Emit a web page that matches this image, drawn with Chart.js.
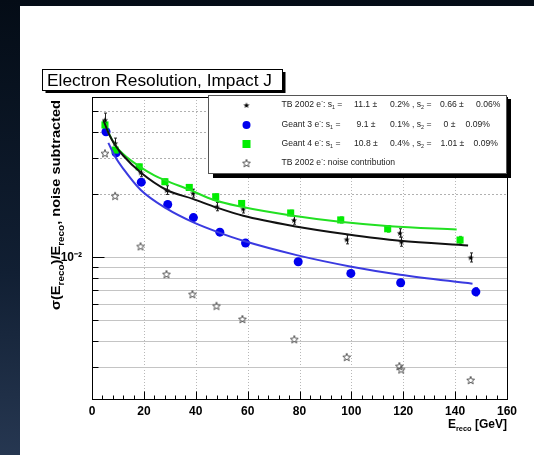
<!DOCTYPE html>
<html>
<head>
<meta charset="utf-8">
<script src="https://cdn.jsdelivr.net/npm/chart.js@4.4.1/dist/chart.umd.min.js"></script>
<style>
  html, body { margin: 0; padding: 0; background: #07111d; }
  #wrap { width: 534px; height: 455px; position: relative; }
</style>
</head>
<body>
<div id="wrap"><canvas id="c" width="534" height="455"></canvas></div>
<script>
// ---------- data ----------
const xTickValues = [0, 20, 40, 60, 80, 100, 120, 140, 160];
const yTickValues = [0.003, 0.004, 0.005, 0.006, 0.007, 0.008, 0.009, 0.01, 0.02, 0.03, 0.04, 0.05];
const yTickLabel = '10⁻²';

// TB 2002 e- (black filled stars)
const tbE   = [5.0, 8.9, 18.8, 28.8, 39.0, 48.1, 58.3, 77.9, 98.2, 118.7, 119.3, 146.0];
const tbVal = [0.0455, 0.0352, 0.0255, 0.0210, 0.0203, 0.0175, 0.0171, 0.0151, 0.0122, 0.0131, 0.0119, 0.0100];
const tbErr = [0.0035, 0.0020, 0.0012, 0.0010, 0.0009, 0.0008, 0.0008, 0.0007, 0.0006, 0.0006, 0.0006, 0.0005];

// Geant 3 e- (blue circles)
const g3E   = [5.4, 9.3, 19.0, 29.2, 39.1, 49.3, 59.2, 79.5, 99.8, 119.0, 148.0];
const g3Val = [0.0399, 0.0316, 0.0229, 0.0179, 0.0155, 0.0132, 0.0117, 0.00953, 0.00838, 0.00756, 0.00684];
const g3Err = [0.0010, 0.0008, 0.0006, 0.0005, 0.0005, 0.0004, 0.0004, 0.0003, 0.0003, 0.0003, 0.0003];

// Geant 4 e- (green squares)
const g4E   = [5.0, 8.9, 18.2, 28.1, 37.5, 47.7, 57.7, 76.6, 95.9, 114.0, 141.9];
const g4Val = [0.0430, 0.0326, 0.0271, 0.0230, 0.0216, 0.0195, 0.0181, 0.0163, 0.0151, 0.0137, 0.0121];
const g4Err = [0.0012, 0.0010, 0.0008, 0.0007, 0.0006, 0.0006, 0.0006, 0.0005, 0.0005, 0.0005, 0.0005];

// TB 2002 e- noise contribution (open stars)
const noiseE   = [5.0, 8.9, 18.7, 28.7, 38.7, 48.0, 58.0, 78.0, 98.2, 118.5, 119.2, 146.0];
const noiseVal = [0.0315, 0.0197, 0.0113, 0.00832, 0.00667, 0.00587, 0.00507, 0.00406, 0.00334, 0.00302, 0.00291, 0.00259];

// fitted curves
const tbFitE   = [4.4, 6.5, 8.9, 12.0, 18.9, 28.8, 39.1, 48.1, 58.3, 77.9, 98.2, 118.7, 145.0];
const tbFitVal = [0.0454, 0.0390, 0.0345, 0.0307, 0.0254, 0.0210, 0.0190, 0.0173, 0.0158, 0.0141, 0.0129, 0.0120, 0.0114];
const g3FitE   = [6.3, 9.0, 12.1, 18.8, 28.8, 39.1, 49.3, 58.3, 78.9, 99.5, 118.8, 146.7];
const g3FitVal = [0.0353, 0.0302, 0.0265, 0.0210, 0.0171, 0.0147, 0.0131, 0.0120, 0.01025, 0.00905, 0.00826, 0.00748];
const g4FitE   = [4.4, 6.5, 8.9, 12.0, 18.5, 24.0, 28.1, 37.8, 47.0, 57.1, 76.3, 95.6, 114.9, 140.6];
const g4FitVal = [0.0454, 0.0392, 0.0345, 0.0312, 0.0271, 0.0247, 0.0234, 0.0210, 0.0188, 0.0175, 0.0159, 0.0148, 0.0141, 0.0136];

// ---------- helpers ----------
const FONT = '"Liberation Sans", Arial, Helvetica, sans-serif';
const pts = (xs, ys) => xs.map((x, i) => ({ x: x, y: ys[i] }));

function starPath(ctx, cx, cy, R, r) {
  ctx.beginPath();
  for (let i = 0; i < 10; i++) {
    const rad = i % 2 === 0 ? R : r;
    const a = -Math.PI / 2 + i * Math.PI / 5;
    const px = cx + rad * Math.cos(a), py = cy + rad * Math.sin(a);
    if (i === 0) ctx.moveTo(px, py); else ctx.lineTo(px, py);
  }
  ctx.closePath();
}
function makeStar(size, filled, color) {
  const cv = document.createElement('canvas');
  cv.width = size; cv.height = size;
  const c = cv.getContext('2d');
  starPath(c, size / 2, size / 2 + 0.5, size / 2 - 0.8, (size / 2 - 0.8) * 0.42);
  if (filled) { c.fillStyle = color; c.fill(); }
  else { c.strokeStyle = color; c.lineWidth = 1; c.stroke(); }
  return cv;
}
const blackStar = makeStar(8, true, '#000');
const openStar = makeStar(10, false, '#555');

function richText(ctx, x, y, parts, size, weight, ratio) {
  ratio = ratio || 0.62;
  let cx = x;
  for (const [t, m] of parts) {
    const s = m === 'n' ? size : size * ratio;
    ctx.font = weight + ' ' + s + 'px ' + FONT;
    const dy = m === 'sub' ? size * 0.28 : (m === 'sup' ? -size * 0.42 : 0);
    ctx.fillText(t, cx, y + dy);
    cx += ctx.measureText(t).width;
  }
  return cx - x;
}
function richWidth(ctx, parts, size, weight, ratio) {
  ratio = ratio || 0.62;
  let w = 0;
  for (const [t, m] of parts) {
    const s = m === 'n' ? size : size * ratio;
    ctx.font = weight + ' ' + s + 'px ' + FONT;
    w += ctx.measureText(t).width;
  }
  return w;
}

// ---------- plugins ----------
const backgroundPlugin = {
  id: 'bg',
  beforeDraw(chart) {
    const ctx = chart.ctx;
    ctx.save();
    const g = ctx.createLinearGradient(0, 0, 0, chart.height);
    g.addColorStop(0, '#040c16');
    g.addColorStop(0.6, '#111f33');
    g.addColorStop(1, '#263751');
    ctx.fillStyle = g;
    ctx.fillRect(0, 0, chart.width, chart.height);
    ctx.fillStyle = '#ffffff';
    ctx.fillRect(20, 6, chart.width - 20, chart.height - 6);
    ctx.restore();
  }
};

const gridPlugin = {
  id: 'rootgrid',
  beforeDatasetsDraw(chart) {
    const { ctx, chartArea: a, scales: { x, y } } = chart;
    ctx.save();
    ctx.lineWidth = 1;
    ctx.strokeStyle = '#b8b8b8';
    ctx.setLineDash([1, 2]);
    for (const v of xTickValues) {
      const px = Math.round(x.getPixelForValue(v)) + 0.5;
      if (px <= a.left + 1 || px >= a.right - 1) continue;
      ctx.beginPath(); ctx.moveTo(px, a.top); ctx.lineTo(px, a.bottom); ctx.stroke();
    }
    for (const v of yTickValues) {
      const py = Math.round(y.getPixelForValue(v)) + 0.5;
      if (v > 0.0101) { ctx.setLineDash([2, 2]); ctx.strokeStyle = '#b0b0b0'; }
      else { ctx.setLineDash([]); ctx.strokeStyle = '#c4c4c4'; }
      ctx.beginPath(); ctx.moveTo(a.left, py); ctx.lineTo(a.right, py); ctx.stroke();
    }
    ctx.restore();
  }
};

const errorBarPlugin = {
  id: 'errbars',
  beforeDatasetsDraw(chart) {
    const { ctx, scales: { x, y } } = chart;
    ctx.save();
    chart.data.datasets.forEach(ds => {
      if (!ds.errors) return;
      ctx.strokeStyle = ds.errColor;
      ctx.lineWidth = 1;
      ds.data.forEach((p, i) => {
        const px = Math.round(x.getPixelForValue(p.x)) + 0.5;
        const y1 = y.getPixelForValue(p.y + ds.errors[i]);
        const y2 = y.getPixelForValue(p.y - ds.errors[i]);
        ctx.beginPath(); ctx.moveTo(px, y1); ctx.lineTo(px, y2); ctx.stroke();
        ctx.beginPath(); ctx.moveTo(px - 1.5, y1); ctx.lineTo(px + 1.5, y1);
        ctx.moveTo(px - 1.5, y2); ctx.lineTo(px + 1.5, y2); ctx.stroke();
      });
    });
    ctx.restore();
  }
};

const overlayPlugin = {
  id: 'overlay',
  afterDatasetsDraw(chart) {
    const { ctx, chartArea: a, scales: { x, y } } = chart;
    ctx.save();
    // frame
    ctx.strokeStyle = '#000'; ctx.lineWidth = 1; ctx.setLineDash([]);
    ctx.strokeRect(Math.round(a.left) + 0.5, Math.round(a.top) + 0.5,
                   Math.round(a.right - a.left), Math.round(a.bottom - a.top));
    // x ticks (inward)
    const xb = Math.round(a.bottom) + 0.5;
    ctx.beginPath();
    for (let v = 0; v <= 160; v += 4) {
      const px = Math.round(x.getPixelForValue(v)) + 0.5;
      const len = (v % 20 === 0) ? 8 : 4;
      ctx.moveTo(px, xb); ctx.lineTo(px, xb - len);
    }
    ctx.stroke();
    // y ticks (inward)
    const yl = Math.round(a.left) + 0.5;
    ctx.beginPath();
    for (const v of yTickValues) {
      const py = Math.round(y.getPixelForValue(v)) + 0.5;
      const len = Math.abs(v - 0.01) < 1e-9 ? 12 : 6;
      ctx.moveTo(yl, py); ctx.lineTo(yl + len, py);
    }
    ctx.stroke();

    // x axis title
    ctx.fillStyle = '#000';
    ctx.textBaseline = 'alphabetic';
    const xt = [['E', 'n'], ['reco', 'sub'], [' [GeV]', 'n']];
    const w = richWidth(ctx, xt, 12, 'bold');
    richText(ctx, a.right - w, 428, xt, 12, 'bold');

    // y axis title (bottom-to-top, fitted to the 210 px span of the original)
    const yt = [['σ(E', 'n'], ['reco', 'sub'], [')/E', 'n'], ['reco', 'sub'], [', noise subtracted', 'n']];
    const ytw = richWidth(ctx, yt, 12.5, 'bold', 0.68);
    ctx.save();
    ctx.translate(60, 310);
    ctx.rotate(-Math.PI / 2);
    ctx.scale(210 / ytw, 1);
    richText(ctx, 0, 0, yt, 12.5, 'bold', 0.68);
    ctx.restore();

    // title box
    ctx.fillStyle = '#000';
    ctx.fillRect(45.5, 72, 240, 21);
    ctx.fillStyle = '#fff';
    ctx.fillRect(42.5, 69.5, 240, 21);
    ctx.strokeStyle = '#000';
    ctx.strokeRect(42.5, 69.5, 240, 21);
    ctx.fillStyle = '#000';
    ctx.font = '16px ' + FONT;
    const tt = 'Electron Resolution, Impact J';
    const ttw = ctx.measureText(tt).width;
    ctx.save();
    ctx.translate(47, 86);
    ctx.scale(225 / ttw, 1);
    ctx.fillText(tt, 0, 0);
    ctx.restore();

    // legend box
    ctx.fillStyle = '#000';
    ctx.fillRect(213, 99, 298, 79);
    ctx.fillStyle = '#fff';
    ctx.fillRect(208.5, 95.5, 298, 78);
    ctx.strokeStyle = '#555';
    ctx.strokeRect(208.5, 95.5, 298, 78);

    const mx = 246.5;
    const rows = [105, 125, 144, 163];
    ctx.drawImage(blackStar, mx - 4, rows[0] - 4);
    ctx.fillStyle = '#0000ee';
    ctx.beginPath(); ctx.arc(mx, rows[1], 4, 0, Math.PI * 2); ctx.fill();
    ctx.fillStyle = '#00ee00';
    ctx.fillRect(mx - 4, rows[2] - 4, 8, 8);
    ctx.drawImage(openStar, mx - 5, rows[3] - 5);

    ctx.fillStyle = '#222';
    ctx.textBaseline = 'middle';
    const fs = 8.6;
    const L = (xx, yy, parts) => richText(ctx, xx, yy, parts, fs, 'normal');
    L(281.5, rows[0], [['TB 2002 e', 'n'], ['-', 'sup'], [': s', 'n'], ['1', 'sub'], [' =', 'n']]);
    L(354, rows[0], [['11.1 ±', 'n']]);
    L(390, rows[0], [['0.2% , s', 'n'], ['2', 'sub'], [' =', 'n']]);
    L(440, rows[0], [['0.66 ±', 'n']]);
    L(476, rows[0], [['0.06%', 'n']]);

    L(281.5, rows[1], [['Geant 3 e', 'n'], ['-', 'sup'], [': s', 'n'], ['1', 'sub'], [' =', 'n']]);
    L(356.5, rows[1], [['9.1 ±', 'n']]);
    L(390, rows[1], [['0.1% , s', 'n'], ['2', 'sub'], [' =', 'n']]);
    L(443.5, rows[1], [['0 ±', 'n']]);
    L(465.5, rows[1], [['0.09%', 'n']]);

    L(281.5, rows[2], [['Geant 4 e', 'n'], ['-', 'sup'], [': s', 'n'], ['1', 'sub'], [' =', 'n']]);
    L(354, rows[2], [['10.8 ±', 'n']]);
    L(390, rows[2], [['0.4% , s', 'n'], ['2', 'sub'], [' =', 'n']]);
    L(440.5, rows[2], [['1.01 ±', 'n']]);
    L(473.5, rows[2], [['0.09%', 'n']]);

    L(281.5, rows[3], [['TB 2002 e', 'n'], ['-', 'sup'], [': noise contribution', 'n']]);
    ctx.restore();
  }
};

// ---------- chart ----------
const lineDs = (label, xs, ys, color, order) => ({
  label, data: pts(xs, ys), showLine: true, pointRadius: 0, borderColor: color,
  borderWidth: 2, cubicInterpolationMode: 'monotone', fill: false, order
});

new Chart(document.getElementById('c'), {
  type: 'scatter',
  data: {
    datasets: [
      lineDs('TB 2002 fit', tbFitE, tbFitVal, '#111111', 1),
      lineDs('Geant 4 fit', g4FitE, g4FitVal, '#22e022', 2),
      lineDs('Geant 3 fit', g3FitE, g3FitVal, '#3a3ae0', 3),
      { label: 'TB 2002 e-', data: pts(tbE, tbVal), errors: tbErr, errColor: '#222',
        pointStyle: blackStar, pointRadius: 4, showLine: false, order: 4 },
      { label: 'Geant 4 e-', data: pts(g4E, g4Val), errors: g4Err, errColor: '#22aa22',
        pointStyle: 'rect', pointRadius: 5, backgroundColor: '#00ee00', borderColor: '#00ee00', borderWidth: 0, showLine: false, order: 5 },
      { label: 'Geant 3 e-', data: pts(g3E, g3Val), errors: g3Err, errColor: '#2222aa',
        pointStyle: 'circle', pointRadius: 4.5, backgroundColor: '#0000ee', borderColor: '#0000ee', borderWidth: 0, showLine: false, order: 6 },
      { label: 'TB 2002 e-: noise contribution', data: pts(noiseE, noiseVal),
        pointStyle: openStar, pointRadius: 5, showLine: false, order: 7 }
    ]
  },
  options: {
    responsive: false,
    animation: false,
    events: [],
    layout: { padding: { left: 20, right: 27, top: 97, bottom: 0 } },
    plugins: { legend: { display: false }, tooltip: { enabled: false }, title: { display: false } },
    scales: {
      x: {
        type: 'linear', min: 0, max: 160,
        afterBuildTicks: s => { s.ticks = xTickValues.map(v => ({ value: v })); },
        ticks: { font: { family: FONT, size: 12, weight: 'bold' }, color: '#000', padding: 5, maxRotation: 0, autoSkip: false },
        grid: { drawOnChartArea: false, drawTicks: false },
        border: { display: false },
        afterFit: s => { s.height = 56; }
      },
      y: {
        type: 'logarithmic', min: 0.0021, max: 0.0585,
        afterBuildTicks: s => { s.ticks = yTickValues.map(v => ({ value: v })); },
        ticks: {
          callback: v => (Math.abs(v - 0.01) < 1e-9 ? yTickLabel : ''),
          font: { family: FONT, size: 12, weight: 'bold' }, color: '#000', padding: 10, autoSkip: false
        },
        grid: { drawOnChartArea: false, drawTicks: false },
        border: { display: false },
        afterFit: s => { s.width = 72; }
      }
    }
  },
  plugins: [backgroundPlugin, gridPlugin, errorBarPlugin, overlayPlugin]
});
</script>
</body>
</html>
